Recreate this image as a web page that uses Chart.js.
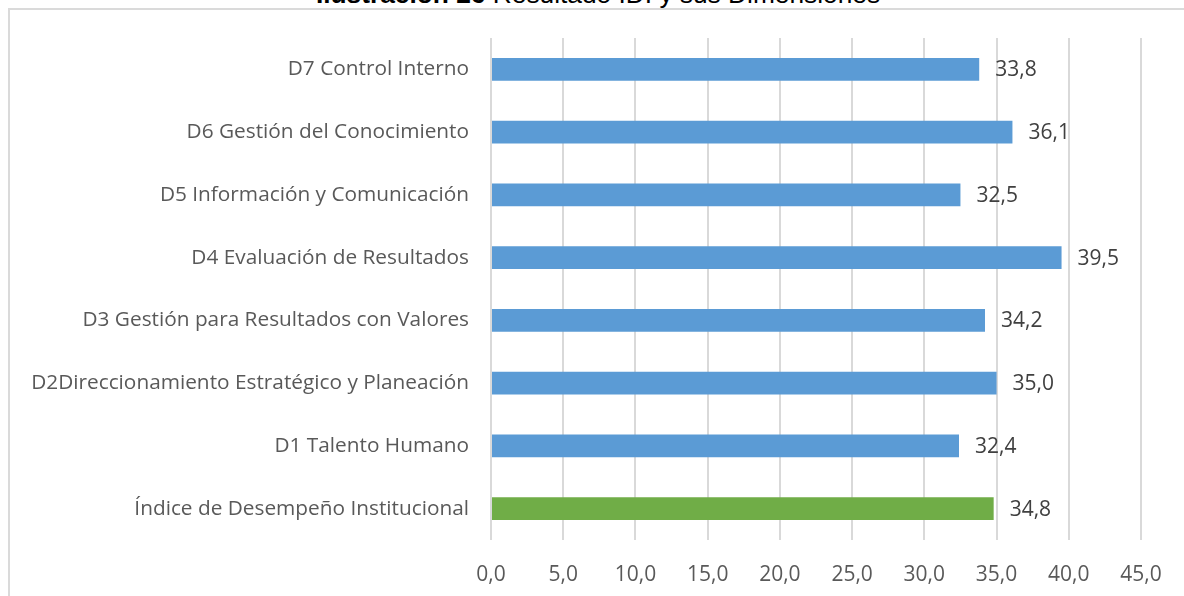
<!DOCTYPE html>
<html>
<head>
<meta charset="utf-8">
<script src="https://cdn.jsdelivr.net/npm/chart.js@4.4.0/dist/chart.umd.min.js"></script>
<style>
  html, body { margin: 0; padding: 0; background: #fff; width: 1184px; height: 596px; overflow: hidden; }
  #frame { position: absolute; left: 8px; top: 8px; width: 1300px; height: 700px; border: 2px solid #dadada; box-sizing: border-box; }
  #title { position: absolute; left: 0; width: 1196px; top: -21px; line-height: 30px; text-align: center; font-family: "Liberation Sans", Arial, sans-serif; font-size: 26.3px; color: #000; white-space: nowrap; }
  #wrap { position: absolute; left: 0; top: 0; width: 1184px; height: 596px; }
</style>
</head>
<body>
<div id="frame"></div>
<div id="title"><b>Ilustración 26</b> Resultado IDI y sus Dimensiones</div>
<div id="wrap"><canvas id="c" width="1184" height="596"></canvas></div>
<script>
const categories = [
  "D7 Control Interno",
  "D6 Gestión del Conocimiento",
  "D5 Información y Comunicación",
  "D4 Evaluación de Resultados",
  "D3 Gestión para Resultados con Valores",
  "D2Direccionamiento Estratégico y Planeación",
  "D1 Talento Humano",
  "Índice de Desempeño Institucional"
];
const values = [33.8, 36.1, 32.5, 39.5, 34.2, 35.0, 32.4, 34.8];
const barColors = ["#5b9bd5", "#5b9bd5", "#5b9bd5", "#5b9bd5", "#5b9bd5", "#5b9bd5", "#5b9bd5", "#70ad47"];
const xMin = 0, xMax = 45, xStep = 5;

const fmt = v => v.toFixed(1).replace('.', ',');
const FONT = "'Open Sans', 'Noto Sans', sans-serif";

const valueLabels = {
  id: 'valueLabels',
  afterDatasetsDraw(chart) {
    const ctx = chart.ctx;
    const meta = chart.getDatasetMeta(0);
    ctx.save();
    ctx.font = "21px " + FONT;
    ctx.fillStyle = "#404040";
    ctx.textAlign = "left";
    ctx.textBaseline = "middle";
    meta.data.forEach((bar, i) => {
      ctx.fillText(fmt(values[i]), bar.x + 16, bar.y + 1);
    });
    ctx.restore();
  }
};

new Chart(document.getElementById('c'), {
  type: 'bar',
  data: {
    labels: categories,
    datasets: [{
      data: values,
      backgroundColor: barColors,
      borderWidth: 0,
      barPercentage: 0.72,
      categoryPercentage: 0.5
    }]
  },
  options: {
    indexAxis: 'y',
    responsive: false,
    animation: false,
    layout: { padding: { top: 38, right: 43, bottom: 0, left: 0 } },
    plugins: { legend: { display: false }, tooltip: { enabled: false } },
    scales: {
      x: {
        min: xMin, max: xMax,
        ticks: {
          stepSize: xStep,
          callback: v => fmt(v),
          color: "#595959",
          font: { family: FONT, size: 21 },
          padding: 22
        },
        grid: { color: "#d9d9d9", lineWidth: 2, drawTicks: false },
        border: { display: false },
        afterFit(s) { s.height = 56; }
      },
      y: {
        ticks: {
          color: "#595959",
          font: { family: FONT, size: 20.8 },
          padding: 22
        },
        grid: { display: false, drawTicks: false },
        border: { display: false },
        afterFit(s) { s.width = 491; }
      }
    }
  },
  plugins: [valueLabels]
});
</script>
</body>
</html>
